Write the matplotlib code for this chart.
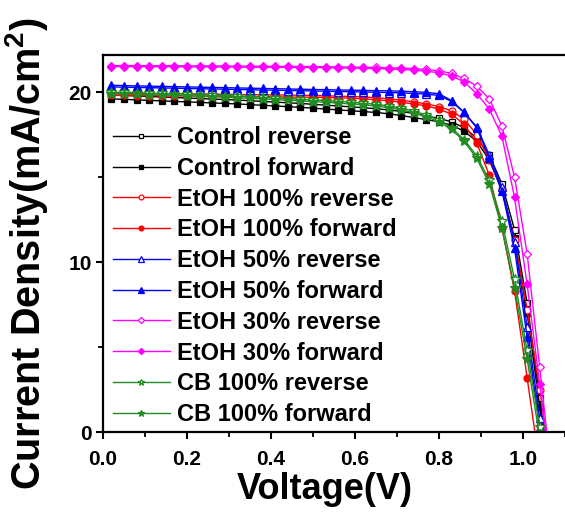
import matplotlib
matplotlib.use("Agg")
import matplotlib.pyplot as plt
from matplotlib.ticker import MultipleLocator

# ======================
# DATA
# ======================
voltage = [0.02, 0.05, 0.08, 0.11, 0.14, 0.17, 0.20, 0.23, 0.26, 0.29, 0.32, 0.35,
           0.38, 0.41, 0.44, 0.47, 0.50, 0.53, 0.56, 0.59, 0.62, 0.65, 0.68, 0.71,
           0.74, 0.77, 0.80, 0.83, 0.86, 0.89, 0.92, 0.95, 0.98, 1.01, 1.04, 1.07]

control_rev = [19.82, 19.80, 19.77, 19.74, 19.71, 19.68, 19.65, 19.62, 19.59, 19.56, 19.53, 19.49,
               19.45, 19.41, 19.37, 19.33, 19.28, 19.23, 19.18, 19.13, 19.08, 19.02, 18.95, 18.86,
               18.74, 18.60, 18.45, 18.25, 17.90, 17.30, 16.30, 14.60, 11.90, 7.60, 2.00, -3.50]
control_fwd = [19.60, 19.57, 19.54, 19.51, 19.48, 19.45, 19.42, 19.39, 19.36, 19.33, 19.30, 19.26,
               19.22, 19.18, 19.14, 19.10, 19.05, 19.00, 18.95, 18.90, 18.85, 18.80, 18.72, 18.62,
               18.50, 18.38, 18.25, 18.05, 17.70, 17.10, 16.00, 14.20, 11.40, 7.00, 1.50, -4.00]
etoh100_rev = [19.92, 19.92, 19.91, 19.91, 19.90, 19.90, 19.89, 19.89, 19.88, 19.87, 19.86, 19.85,
               19.84, 19.83, 19.82, 19.81, 19.80, 19.78, 19.76, 19.74, 19.71, 19.67, 19.60, 19.52,
               19.42, 19.30, 19.15, 18.90, 18.40, 17.50, 16.00, 14.30, 11.30, 7.20, 2.50, -2.50]
etoh100_fwd = [19.80, 19.80, 19.79, 19.79, 19.78, 19.78, 19.77, 19.77, 19.76, 19.76, 19.75, 19.74,
               19.73, 19.72, 19.71, 19.70, 19.69, 19.68, 19.66, 19.64, 19.60, 19.55, 19.48, 19.40,
               19.30, 19.18, 19.00, 18.70, 18.10, 17.00, 15.10, 12.00, 8.30, 3.20, -2.00, -7.00]
etoh50_rev = [20.30, 20.29, 20.27, 20.26, 20.24, 20.23, 20.21, 20.20, 20.18, 20.17, 20.15, 20.14,
              20.12, 20.11, 20.09, 20.08, 20.06, 20.05, 20.03, 20.02, 20.00, 19.99, 19.97, 19.95,
              19.92, 19.88, 19.80, 19.45, 18.80, 17.95, 16.30, 14.40, 11.20, 6.20, 0.80, -4.50]
etoh50_fwd = [20.40, 20.38, 20.36, 20.35, 20.33, 20.32, 20.30, 20.29, 20.27, 20.26, 20.24, 20.23,
              20.21, 20.20, 20.18, 20.17, 20.15, 20.14, 20.12, 20.11, 20.10, 20.08, 20.07, 20.05,
              20.02, 19.98, 19.90, 19.50, 18.80, 17.90, 16.10, 14.20, 10.80, 5.60, 0.30, -5.00]
etoh30_rev = [21.56, 21.56, 21.56, 21.55, 21.55, 21.55, 21.54, 21.54, 21.54, 21.53, 21.53, 21.52,
              21.52, 21.51, 21.51, 21.50, 21.50, 21.49, 21.48, 21.47, 21.46, 21.45, 21.43, 21.41,
              21.38, 21.33, 21.25, 21.10, 20.80, 20.35, 19.60, 18.00, 15.00, 10.50, 3.80, -3.00]
etoh30_fwd = [21.50, 21.50, 21.50, 21.49, 21.49, 21.49, 21.48, 21.48, 21.48, 21.47, 21.47, 21.46,
              21.46, 21.45, 21.45, 21.44, 21.44, 21.43, 21.42, 21.41, 21.40, 21.38, 21.36, 21.33,
              21.29, 21.23, 21.13, 20.95, 20.60, 19.90, 19.00, 17.40, 13.80, 8.70, 2.80, -3.50]
cb100_rev = [20.00, 19.98, 19.96, 19.94, 19.92, 19.90, 19.88, 19.85, 19.82, 19.79, 19.76, 19.73,
             19.70, 19.66, 19.62, 19.58, 19.54, 19.50, 19.45, 19.40, 19.35, 19.28, 19.18, 19.05,
             18.88, 18.65, 18.35, 17.90, 17.20, 16.25, 14.80, 12.40, 9.00, 4.80, 0.30, -4.50]
cb100_fwd = [19.90, 19.88, 19.86, 19.84, 19.82, 19.80, 19.78, 19.75, 19.72, 19.69, 19.66, 19.63,
             19.60, 19.56, 19.52, 19.48, 19.44, 19.40, 19.35, 19.30, 19.25, 19.18, 19.08, 18.95,
             18.78, 18.55, 18.25, 17.80, 17.10, 16.10, 14.60, 12.00, 8.50, 4.30, -0.30, -5.00]

labels = ["Control reverse", "Control forward",
          "EtOH 100% reverse", "EtOH 100% forward",
          "EtOH 50% reverse", "EtOH 50% forward",
          "EtOH 30% reverse", "EtOH 30% forward",
          "CB 100% reverse", "CB 100% forward"]
series = [control_rev, control_fwd, etoh100_rev, etoh100_fwd, etoh50_rev,
          etoh50_fwd, etoh30_rev, etoh30_fwd, cb100_rev, cb100_fwd]

# ======================
# STYLE
# ======================
colors  = ["black", "black", "#FF0000", "#FF0000", "#0000FF", "#0000FF",
           "#FF00FF", "#FF00FF", "#228B22", "#228B22"]
markers = ["s", "s", "o", "o", "^", "^", "D", "D", "*", "*"]
msizes  = [4.5, 4.5, 5, 5, 5.5, 5.5, 4.5, 4.5, 7, 7]

plt.rcParams["font.family"] = ["Liberation Sans", "DejaVu Sans"]
plt.rcParams["font.weight"] = "bold"
plt.rcParams["mathtext.fontset"] = "custom"
plt.rcParams["mathtext.rm"] = "Liberation Sans:bold"
plt.rcParams["mathtext.default"] = "rm"

W, H = 565, 514
fig = plt.figure(figsize=(W / 100, H / 100), dpi=100)
ax = fig.add_axes([103 / W, (H - 432) / H, 464 / W, 377 / H])

for i in range(len(series)):
    open_marker = labels[i].endswith("reverse")
    ax.plot(voltage, series[i], color=colors[i], lw=1.0,
            marker=markers[i], ms=msizes[i], mew=0.9,
            mfc="white" if open_marker else colors[i], mec=colors[i],
            label=labels[i])

ax.set_xlim(0, 1.105)
ax.set_ylim(0, 22.18)
ax.xaxis.set_major_locator(MultipleLocator(0.2))
ax.xaxis.set_minor_locator(MultipleLocator(0.1))
ax.yaxis.set_major_locator(MultipleLocator(10))
ax.yaxis.set_minor_locator(MultipleLocator(5))
ax.xaxis.set_major_formatter(plt.FormatStrFormatter("%.1f"))

for s in ax.spines.values():
    s.set_linewidth(1.6)
ax.tick_params(which="major", direction="out", length=5, width=1.5, labelsize=15)
ax.tick_params(which="minor", direction="out", length=3.5, width=1.3)
ax.tick_params(axis="x", which="major", pad=8)
ax.tick_params(axis="y", which="major", pad=3)

ax.set_xlabel("Voltage(V)", fontsize=26, fontweight="bold")
ax.set_ylabel("Current Density(mA/cm$^2$)", fontsize=28.5, fontweight="bold")
ax.xaxis.set_label_coords(222 / 464, -0.105)
ax.yaxis.set_label_coords(-0.114, 0.474)

ax.legend(loc="upper left", bbox_to_anchor=(10 / 464, 1 - 71 / 377),
          frameon=False, fontsize=17, handlelength=2.4, handletextpad=0.3,
          labelspacing=0.33, borderpad=0, borderaxespad=0, markerscale=0.7)

fig.savefig("out.png", dpi=100)
